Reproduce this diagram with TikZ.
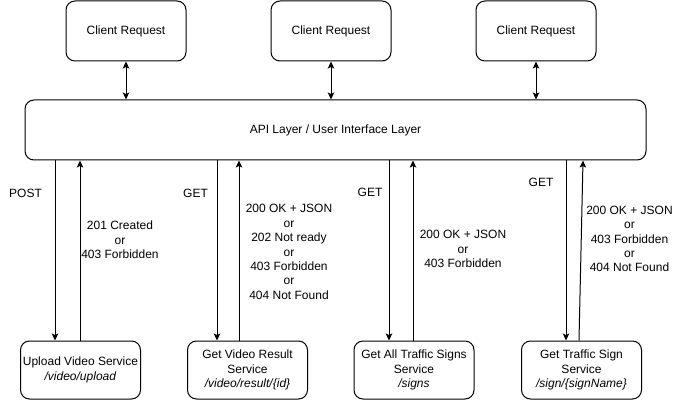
\documentclass[tikz,border=0pt]{standalone}
\usepackage{fontspec}
\setmainfont{Liberation Sans}
\usetikzlibrary{arrows.meta}
\begin{document}
\begin{tikzpicture}[x=1pt,y=-1pt,
  every node/.style={font=\fontsize{12}{14.4}\selectfont, align=center, inner sep=0pt},
  box/.style={draw, line width=1pt, rounded corners=9pt, minimum width=120pt, minimum height=60pt},
  botbox/.style={box, minimum height=58pt},
  apibox/.style={box, minimum width=621pt, minimum height=60pt},
  conn/.style={line width=1pt, -{Stealth[length=7pt,width=6.5pt,inset=1.5pt]}},
  dconn/.style={line width=1pt, {Stealth[length=7pt,width=6.5pt,inset=1.5pt]}-{Stealth[length=7pt,width=6.5pt,inset=1.5pt]}},
  lbl/.style={fill=none}]
\useasboundingbox (0,0) rectangle (681,401);

% top client boxes
\node[box] (c1) at (126,31) {Client Request};
\node[box] (c2) at (331,31) {Client Request};
\node[box] (c3) at (536,31) {Client Request};

% API layer
\node[apibox] (api) at (335.5,130) {API Layer / User Interface Layer};

% bottom services
\node[botbox] (s1) at (80.5,370) {Upload Video Service\\\textit{/video/upload}};
\node[botbox] (s2) at (247.5,370) {Get Video Result\\Service\\\textit{/video/result/\{id\}}};
\node[botbox] (s3) at (414,370) {Get All Traffic Signs\\Service\\\textit{/signs}};
\node[botbox] (s4) at (581.5,370) {Get Traffic Sign\\Service\\\textit{/sign/\{signName\}}};

% client <-> api
\draw[dconn] (c1.south) -- (c1.south |- api.north);
\draw[dconn] (c2.south) -- (c2.south |- api.north);
\draw[dconn] (c3.south) -- (c3.south |- api.north);

% x positions of vertical connectors
\coordinate (d1) at (55,0);
\coordinate (u1) at (80,0);
\coordinate (d2) at (217,0);
\coordinate (u2) at (239,0);
\coordinate (d3) at (389,0);
\coordinate (u3) at (413,0);
\coordinate (d4) at (566,0);
\coordinate (u4t) at (583,0);
\coordinate (u4b) at (579,0);

\draw[conn] (api.south -| d1) -- (s1.north -| d1);
\draw[conn] (s1.north -| u1) -- (api.south -| u1);
\draw[conn] (api.south -| d2) -- (s2.north -| d2);
\draw[conn] (s2.north -| u2) -- (api.south -| u2);
\draw[conn] (api.south -| d3) -- (s3.north -| d3);
\draw[conn] (s3.north -| u3) -- (api.south -| u3);
\draw[conn] (api.south -| d4) -- (s4.north -| d4);
\draw[conn] (s4.north -| u4b) -- (api.south -| u4t);

% labels
\node[lbl] (post) at (25.5,193) {POST};
\node[lbl] (get1) at (195.5,193) {GET};
\node[lbl] (get2) at (370,192) {GET};
\node[lbl] (get3) at (541,182) {GET};

\node[lbl] (r1) at (120,240) {201 Created\\or\\403 Forbidden};
\node[lbl] (r2) at (289,252) {200 OK + JSON\\or\\202 Not ready\\or\\403 Forbidden\\or\\404 Not Found};
\node[lbl] (r3) at (463,249) {200 OK + JSON\\or\\403 Forbidden};
\node[lbl] (r4) at (629.5,239) {200 OK + JSON\\or\\403 Forbidden\\or\\404 Not Found};
\end{tikzpicture}
\end{document}
